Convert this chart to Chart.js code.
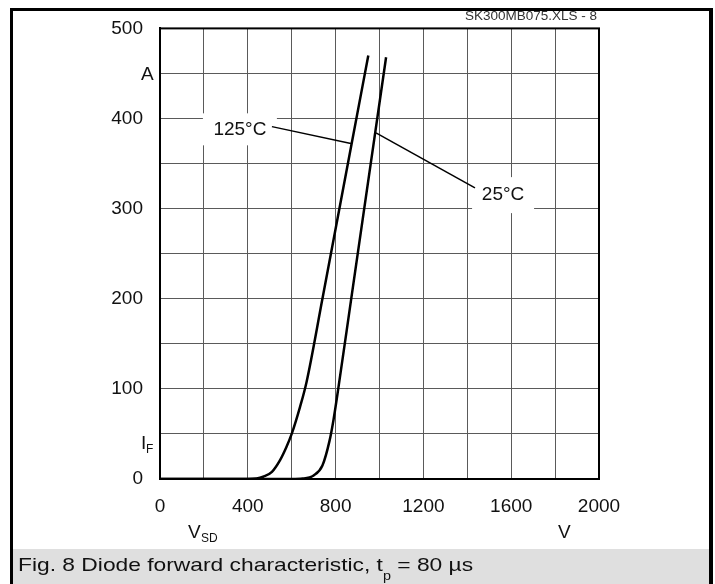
<!DOCTYPE html>
<html>
<head>
<meta charset="utf-8">
<script src="https://cdn.jsdelivr.net/npm/chart.js@4.4.1/dist/chart.umd.min.js"></script>
<style>
  body { margin: 0; background: #fff; }
  #wrap { position: relative; width: 715px; height: 584px; }
</style>
</head>
<body>
<div id="wrap"><canvas id="chart" width="715" height="584"></canvas></div>
<script>
// diode forward characteristic
const vsd125 = [0, 400, 440, 470, 510, 547, 575, 600, 638, 668, 740, 873, 949];
const if125  = [0, 0, 0.5, 2.5, 8, 21, 35, 50, 80, 108, 200, 372, 470];

const vsd25 = [0, 600, 650, 700, 740, 772, 790, 812, 870, 950, 1030];
const if25  = [0, 0, 0.5, 4, 15, 42, 65, 100, 198, 333, 468];

// leader lines from labels to curves (V, A)
const leader125 = [[510, 391], [875, 372]];
const leader25  = [[984, 384], [1435, 323]];

const xTicks = [0, 400, 800, 1200, 1600, 2000];
const yTicks = [0, 100, 200, 300, 400, 500];

const FONT = "'Liberation Sans', Arial, sans-serif";

const toPts = (xs, ys) => xs.map((x, i) => ({ x: x, y: ys[i] }));
const pairPts = arr => arr.map(p => ({ x: p[0], y: p[1] }));

function curve(data) {
    return {
        data: data,
        borderColor: '#000',
        borderWidth: 2.5,
        pointRadius: 0,
        showLine: true,
        cubicInterpolationMode: 'monotone',
        fill: false
    };
}

function leader(data) {
    return {
        data: data,
        borderColor: '#000',
        borderWidth: 1.5,
        pointRadius: 0,
        showLine: true,
        tension: 0
    };
}

// labels inside the plot, with white patches under them
const labels = [
    { text: '125°C', v: 364, i: 388, w: 74, h: 32 },
    { text: '25°C',  v: 1563, i: 315, w: 62, h: 36 }
];

const decorPlugin = {
    id: 'decor',
    beforeDraw(chart) {
        const c = chart.ctx;
        c.save();
        c.fillStyle = '#fff';
        c.fillRect(0, 0, chart.width, chart.height);
        // caption band
        c.fillStyle = '#dfdfdf';
        c.fillRect(13, 549, 696, 35);
        // outer frame
        c.fillStyle = '#000';
        c.fillRect(10, 8, 703, 3);
        c.fillRect(10, 8, 3, 576);
        c.fillRect(709, 8, 4, 576);
        c.restore();
    },
    beforeDatasetsDraw(chart) {
        const c = chart.ctx;
        const xs = chart.scales.x, ys = chart.scales.y;
        c.save();
        c.fillStyle = '#fff';
        labels.forEach(l => {
            const px = xs.getPixelForValue(l.v), py = ys.getPixelForValue(l.i);
            c.fillRect(px - l.w / 2, py - l.h / 2, l.w, l.h);
        });
        c.restore();
    },
    afterDraw(chart) {
        const c = chart.ctx;
        const xs = chart.scales.x, ys = chart.scales.y;
        const a = chart.chartArea;
        c.save();
        // plot frame
        c.strokeStyle = '#000';
        c.lineWidth = 2;
        c.strokeRect(a.left, a.top, a.right - a.left, a.bottom - a.top);

        c.fillStyle = '#111';
        c.textBaseline = 'middle';
        c.textAlign = 'center';
        c.font = '19px ' + FONT;
        labels.forEach(l => {
            c.fillText(l.text, xs.getPixelForValue(l.v), ys.getPixelForValue(l.i));
        });

        // axis units / symbols
        c.textAlign = 'left';
        c.fillText('A', 141, 75);
        c.fillText('I', 141, 444);
        c.font = '12px ' + FONT;
        c.fillText('F', 146, 450);

        c.font = '19px ' + FONT;
        c.fillText('V', 188, 533);
        c.font = '12px ' + FONT;
        c.fillText('SD', 201, 539);
        c.font = '19px ' + FONT;
        c.fillText('V', 558, 533);

        // file tag
        c.textAlign = 'right';
        c.fillStyle = '#333';
        c.font = '13.5px ' + FONT;
        c.fillText('SK300MB075.XLS - 8', 597, 16);

        // caption (the original type is set wide)
        c.textAlign = 'left';
        c.fillStyle = '#111';
        c.translate(18, 0);
        c.scale(1.2, 1);
        c.font = '19px ' + FONT;
        const head = 'Fig. 8 Diode forward characteristic, t';
        c.fillText(head, 0, 566);
        let x = c.measureText(head).width;
        c.font = '12px ' + FONT;
        c.fillText('p', x, 577);
        x += c.measureText('p').width;
        c.font = '19px ' + FONT;
        c.fillText(' = 80 µs', x, 566);
        c.restore();
    }
};

new Chart(document.getElementById('chart'), {
    type: 'scatter',
    data: {
        datasets: [
            curve(toPts(vsd125, if125)),
            curve(toPts(vsd25, if25)),
            leader(pairPts(leader125)),
            leader(pairPts(leader25))
        ]
    },
    options: {
        responsive: false,
        animation: false,
        layout: { padding: { left: 0, top: 26, right: 116, bottom: 0 } },
        plugins: {
            legend: { display: false },
            tooltip: { enabled: false }
        },
        scales: {
            x: {
                type: 'linear',
                min: 0, max: 2000,
                afterFit: s => { s.height = 105; },
                ticks: {
                    stepSize: 200,
                    padding: 16,
                    color: '#111',
                    font: { family: FONT, size: 19 },
                    maxRotation: 0,
                    autoSkip: false,
                    callback: v => xTicks.includes(v) ? String(v) : ''
                },
                grid: { color: '#5a5a5a', lineWidth: 1, drawTicks: false },
                border: { color: '#000', width: 2 }
            },
            y: {
                type: 'linear',
                min: 0, max: 500,
                afterFit: s => { s.width = 160; },
                ticks: {
                    stepSize: 50,
                    padding: 17,
                    color: '#111',
                    font: { family: FONT, size: 19 },
                    autoSkip: false,
                    callback: v => yTicks.includes(v) ? String(v) : ''
                },
                grid: { color: '#5a5a5a', lineWidth: 1, drawTicks: false },
                border: { color: '#000', width: 2 }
            }
        }
    },
    plugins: [decorPlugin]
});
</script>
</body>
</html>
